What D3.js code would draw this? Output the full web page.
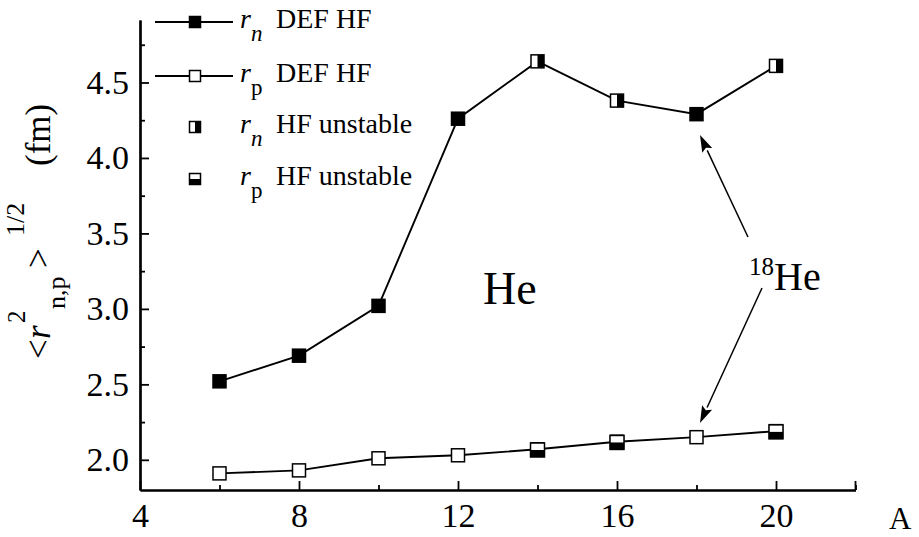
<!DOCTYPE html>
<html>
<head>
<meta charset="utf-8">
<script src="https://cdn.jsdelivr.net/npm/d3@7/dist/d3.min.js"></script>
<style>
  html, body { margin: 0; padding: 0; background: #fff; }
  svg { display: block; }
  svg text { font-family: "Liberation Serif", "Times New Roman", Tinos, "DejaVu Serif", serif !important; }
</style>
</head>
<body>
<svg id="chart" width="919" height="537"></svg>
<script>
// Mass number A
const massNumbers = [6, 8, 10, 12, 14, 16, 18, 20];
// Neutron rms radius, deformed HF (fm)
const rnDefHF = [2.52, 2.69, 3.02, 4.26, 4.64, 4.38, 4.29, 4.61];
// Proton rms radius, deformed HF (fm)
const rpDefHF = [1.91, 1.93, 2.01, 2.03, 2.07, 2.12, 2.15, 2.19];
// Nuclei where the HF solution is unstable
const unstableA = [14, 16, 20];
const rnUnstable = [4.64, 4.38, 4.61];
const rpUnstable = [2.065, 2.115, 2.185];

const xMajorTicks = [4, 8, 12, 16, 20];
const xMinorTicks = [6, 10, 14, 18, 22];
const yMajorTicks = [2.0, 2.5, 3.0, 3.5, 4.0, 4.5];
const yMinorTicks = [2.25, 2.75, 3.25, 3.75, 4.25, 4.75];

const SERIF = "'Liberation Serif', 'Times New Roman', Tinos, 'DejaVu Serif', serif";
const svg = d3.select("#chart").attr("font-family", SERIF);
const plotLeft = 140, plotRight = 855.5, plotTop = 20, plotBottom = 490;

const x = d3.scaleLinear().domain([4, 22]).range([plotLeft, plotRight]);
const y = d3.scaleLinear().domain([1.8, 4.914]).range([plotBottom, plotTop]);

// Axes with inward ticks
const axisG = svg.append("g");
const xAxisMajor = d3.axisBottom(x).tickValues(xMajorTicks).tickSizeInner(-9).tickSizeOuter(0)
  .tickPadding(13).tickFormat(d3.format("d"));
const xAxisMinor = d3.axisBottom(x).tickValues(xMinorTicks).tickSizeInner(-5).tickSizeOuter(0)
  .tickFormat("");
const yAxisMajor = d3.axisLeft(y).tickValues(yMajorTicks).tickSizeInner(-9).tickSizeOuter(0)
  .tickPadding(11).tickFormat(d3.format(".1f"));
const yAxisMinor = d3.axisLeft(y).tickValues(yMinorTicks).tickSizeInner(-5).tickSizeOuter(0)
  .tickFormat("");

function styleAxis(g) {
  g.attr("font-family", SERIF).attr("font-size", 34);
  g.select(".domain").attr("stroke", "#000").attr("stroke-width", 2.2);
  g.selectAll(".tick line").attr("stroke", "#000").attr("stroke-width", 1.8);
  g.selectAll(".tick text").attr("fill", "#000");
}
axisG.append("g").attr("transform", `translate(0,${plotBottom})`).call(xAxisMajor).call(styleAxis)
  .selectAll(".tick text").attr("dy", "0.71em");
axisG.append("g").attr("transform", `translate(0,${plotBottom})`).call(xAxisMinor).call(styleAxis);
axisG.append("g").attr("transform", `translate(${plotLeft},0)`).call(yAxisMajor).call(styleAxis);
axisG.append("g").attr("transform", `translate(${plotLeft},0)`).call(yAxisMinor).call(styleAxis);
// closing tick at the right end of the x axis
svg.append("line").attr("x1", x(22)).attr("x2", x(22)).attr("y1", plotBottom).attr("y2", plotBottom - 9)
  .attr("stroke", "#000").attr("stroke-width", 1.8);

// Axis titles
svg.append("text").attr("x", 889).attr("y", 529).attr("font-size", 31).text("A");

// Rotated y title: each piece positioned along the vertical baseline
const yTitle = svg.append("text").attr("transform", "rotate(-90)").attr("font-size", 35);
yTitle.append("tspan").attr("x", -359).attr("y", 50).text("<");
yTitle.append("tspan").attr("x", -339).attr("y", 50).attr("font-style", "italic").text("r");
yTitle.append("tspan").attr("x", -323).attr("y", 25).attr("font-size", 25).text("2");
yTitle.append("tspan").attr("x", -309).attr("y", 65).attr("font-size", 26).text("n,p");
yTitle.append("tspan").attr("x", -268).attr("y", 50).text(">");
yTitle.append("tspan").attr("x", -236).attr("y", 24).attr("font-size", 26).text("1/2");
yTitle.append("tspan").attr("x", -166).attr("y", 50).text("(fm)");

// Lines
const line = d3.line().x((d, i) => x(massNumbers[i])).y(d => y(d));
svg.append("path").datum(rnDefHF).attr("d", line)
  .attr("fill", "none").attr("stroke", "#000").attr("stroke-width", 1.9);
svg.append("path").datum(rpDefHF).attr("d", line)
  .attr("fill", "none").attr("stroke", "#000").attr("stroke-width", 1.9);

const S = 13;
// Marker drawing helpers
function filledSquare(g, cx, cy, s) {
  g.append("rect").attr("x", cx - s / 2).attr("y", cy - s / 2).attr("width", s).attr("height", s)
    .attr("fill", "#000").attr("stroke", "#000").attr("stroke-width", 1.5);
}
function openSquare(g, cx, cy, s) {
  g.append("rect").attr("x", cx - s / 2).attr("y", cy - s / 2).attr("width", s).attr("height", s)
    .attr("fill", "#fff").attr("stroke", "#000").attr("stroke-width", 1.5);
}
function halfRight(g, cx, cy, s) {
  openSquare(g, cx, cy, s);
  g.append("rect").attr("x", cx).attr("y", cy - s / 2).attr("width", s / 2).attr("height", s)
    .attr("fill", "#000");
}
function halfBottom(g, cx, cy, s) {
  openSquare(g, cx, cy, s);
  g.append("rect").attr("x", cx - s / 2).attr("y", cy).attr("width", s).attr("height", s / 2)
    .attr("fill", "#000");
}

const marks = svg.append("g");
rnDefHF.forEach((v, i) => {
  if (!unstableA.includes(massNumbers[i])) filledSquare(marks, x(massNumbers[i]), y(v), S);
});
rpDefHF.forEach((v, i) => openSquare(marks, x(massNumbers[i]), y(v), S));
unstableA.forEach((a, i) => {
  halfRight(marks, x(a), y(rnUnstable[i]), S);
  halfBottom(marks, x(a), y(rpUnstable[i]), S + 1);
});

// Legend
const legend = svg.append("g");
const legRows = [22, 76, 127, 179];
const legX0 = 155, legX1 = 233, legM = 195;
legend.append("line").attr("x1", legX0).attr("x2", legX1).attr("y1", legRows[0]).attr("y2", legRows[0])
  .attr("stroke", "#000").attr("stroke-width", 1.9);
filledSquare(legend, legM, legRows[0], 11);
legend.append("line").attr("x1", legX0).attr("x2", legX1).attr("y1", legRows[1]).attr("y2", legRows[1])
  .attr("stroke", "#000").attr("stroke-width", 1.9);
openSquare(legend, legM, legRows[1], 11);
halfRight(legend, legM, legRows[2], 11);
halfBottom(legend, legM, legRows[3], 11);

const legendText = [
  ["n", "DEF HF", true],
  ["p", "DEF HF", false],
  ["n", "HF unstable", true],
  ["p", "HF unstable", false]
];
legendText.forEach(([sub, label, italicSub], i) => {
  const t = legend.append("text").attr("x", 240).attr("y", legRows[i] + 6).attr("font-size", 28);
  t.append("tspan").attr("font-style", "italic").text("r");
  t.append("tspan").attr("font-size", 23).attr("dy", 13)
    .attr("font-style", italicSub ? "italic" : "normal").text(sub);
  t.append("tspan").attr("x", 276).attr("dy", -13).text(label);
});

// Annotations
svg.append("text").attr("x", 483).attr("y", 304).attr("font-size", 46).text("He");
const iso = svg.append("text").attr("x", 749).attr("y", 290).attr("font-size", 40);
iso.append("tspan").attr("font-size", 25).attr("dy", -15).text("18");
iso.append("tspan").attr("dy", 15).text("He");

function arrow(x1, y1, x2, y2) {
  const ang = Math.atan2(y2 - y1, x2 - x1);
  const hl = 17, hw = 5.5;
  const bx = x2 - hl * Math.cos(ang), by = y2 - hl * Math.sin(ang);
  svg.append("line").attr("x1", x1).attr("y1", y1).attr("x2", bx).attr("y2", by)
    .attr("stroke", "#000").attr("stroke-width", 1.5);
  const px = -Math.sin(ang) * hw, py = Math.cos(ang) * hw;
  svg.append("path")
    .attr("d", `M${x2},${y2} L${bx + px},${by + py} L${bx + 3 * Math.cos(ang)},${by + 3 * Math.sin(ang)} L${bx - px},${by - py} Z`)
    .attr("fill", "#000");
}
arrow(748, 237, 700, 135);
arrow(762, 288, 700, 423);
</script>
</body>
</html>
